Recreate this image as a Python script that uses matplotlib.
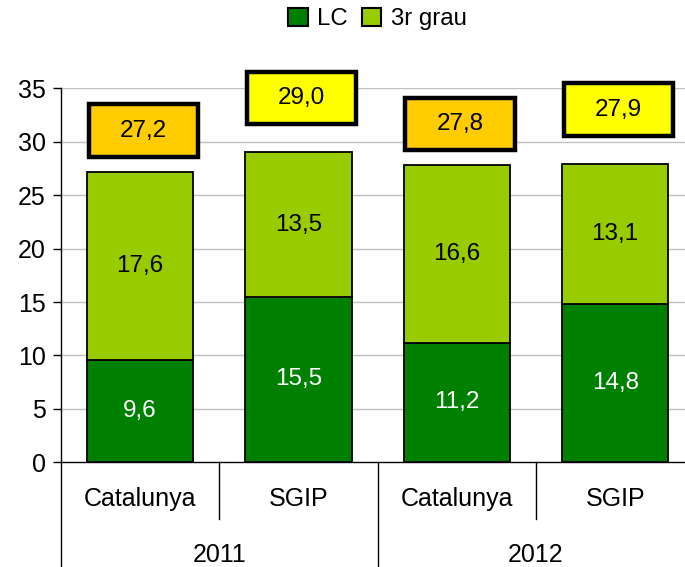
import matplotlib
matplotlib.use("Agg")
import matplotlib.pyplot as plt
from matplotlib.patches import Rectangle, Patch
from matplotlib.lines import Line2D
import matplotlib.transforms as mtransforms

plt.rcParams['font.family'] = ['Liberation Sans', 'DejaVu Sans']

years = ["2011", "2012"]
groups = ["Catalunya", "SGIP"]
categories = ["Catalunya", "SGIP", "Catalunya", "SGIP"]
lc = [9.6, 15.5, 11.2, 14.8]
grau3 = [17.6, 13.5, 16.6, 13.1]
totals = [27.2, 29.0, 27.8, 27.9]
series_names = ["LC", "3r grau"]
yticks = [0, 5, 10, 15, 20, 25, 30, 35]

c_lc = "#008000"
c_g3 = "#99CC00"
box_colors = {"Catalunya": "#FFCC00", "SGIP": "#FFFF00"}
box_offset = {"Catalunya": 3.85, "SGIP": 5.1}

W, H = 685, 567
fig = plt.figure(figsize=(W / 100, H / 100), dpi=100)
left_px, right_px = 61, 694.3
top_px, bot_px = 88.3, 462.3
ax = fig.add_axes([left_px / W, 1 - bot_px / H, (right_px - left_px) / W, (bot_px - top_px) / H])

x = list(range(len(categories)))
bw = 0.673
ax.bar(x, lc, width=bw, color=c_lc, edgecolor="black", linewidth=1.3, zorder=3)
ax.bar(x, grau3, bottom=lc, width=bw, color=c_g3, edgecolor="black", linewidth=1.3, zorder=3)

fs_in = 17.5
fs_ax = 18
for i in x:
    ax.text(i, lc[i] / 2, f"{lc[i]:.1f}".replace(".", ","), ha="center", va="center",
            color="white", fontsize=fs_in, zorder=4)
    ax.text(i, lc[i] + grau3[i] / 2, f"{grau3[i]:.1f}".replace(".", ","), ha="center",
            va="center", color="black", fontsize=fs_in, zorder=4)
    g = categories[i]
    yc = totals[i] + box_offset[g]
    bwid, bhei = 0.69, 4.9
    ax.add_patch(Rectangle((i + 0.02 - bwid / 2, yc - bhei / 2), bwid, bhei,
                           facecolor=box_colors[g], edgecolor="black", linewidth=3.2,
                           zorder=5, clip_on=False))
    ax.text(i + 0.02, yc, f"{totals[i]:.1f}".replace(".", ","), ha="center", va="center",
            fontsize=fs_in, zorder=6)

ax.set_xlim(-0.5, len(categories) - 0.5)
ax.set_ylim(0, 35)
ax.set_yticks(yticks)
ax.set_yticklabels([str(v) for v in yticks], fontsize=fs_ax)
ax.tick_params(axis="y", direction="out", length=6, width=1, pad=5)
ax.set_xticks([])
for v in yticks[1:]:
    ax.axhline(v, color="#C0C0C0", linewidth=1, zorder=1)
for s in ["top", "right"]:
    ax.spines[s].set_visible(False)
ax.spines["left"].set_linewidth(1)
ax.spines["bottom"].set_linewidth(1)

trans = mtransforms.blended_transform_factory(ax.transData, ax.transAxes)
axis_h = bot_px - top_px
short_y = -(519 - bot_px) / axis_h
long_y = -0.5
for xs in [0.5, 2.5]:
    ax.add_line(Line2D([xs, xs], [0, short_y], transform=trans, color="black",
                       linewidth=1, clip_on=False))
for xs in [-0.5, 1.5, 3.5]:
    ax.add_line(Line2D([xs, xs], [0, long_y], transform=trans, color="black",
                       linewidth=1, clip_on=False))
cat_y = -(499 - bot_px) / axis_h
yr_y = -(555 - bot_px) / axis_h
for i, c in enumerate(categories):
    ax.text(i, cat_y, c, transform=trans, ha="center", va="center", fontsize=fs_ax)
for j, yr in enumerate(years):
    ax.text(2 * j + 0.5, yr_y, yr, transform=trans, ha="center", va="center", fontsize=fs_ax)

handles = [Patch(facecolor=c_lc, edgecolor="black", linewidth=1.5),
           Patch(facecolor=c_g3, edgecolor="black", linewidth=1.5)]
ax.legend(handles, series_names, loc="center", bbox_to_anchor=(0.5, 1 + (top_px - 19) / axis_h),
          ncol=2, frameon=False, fontsize=17.3, handlelength=0.8, handleheight=0.8,
          handletextpad=0.4, columnspacing=0.6, borderaxespad=0)

fig.savefig("out.png", dpi=100)
